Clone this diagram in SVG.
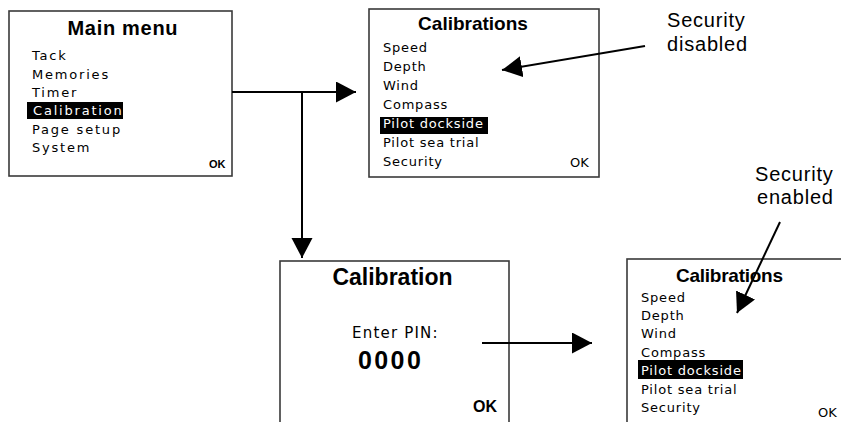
<svg xmlns="http://www.w3.org/2000/svg" width="841" height="422" viewBox="0 0 841 422">
  <style>
    .screen { fill: #ffffff; stroke: #3a3a3a; stroke-width: 1.6; }
    .title { font-family: "Liberation Sans", Arial, sans-serif; font-weight: bold; fill: #000; text-anchor: middle; }
    .item { font-family: "DejaVu Sans", Verdana, sans-serif; font-size: 13px; fill: #000; }
    .main .item { letter-spacing: 1.8px; }
    .cal .item { letter-spacing: 0.8px; }
    .sel { fill: #000; }
    .item.inv { fill: #fff; }
    .okb { font-family: "Liberation Sans", Arial, sans-serif; font-weight: bold; fill: #000; }
    .okr { font-family: "DejaVu Sans", Verdana, sans-serif; font-size: 13px; fill: #000; }
    .note { font-family: "Liberation Sans", Arial, sans-serif; font-size: 20px; letter-spacing: 0.8px; fill: #000; }
    .conn { stroke: #000; stroke-width: 2; fill: none; }
  </style>
  <defs>
    <marker id="head" markerUnits="userSpaceOnUse" markerWidth="21" markerHeight="22" refX="20" refY="10.5" orient="auto">
      <path d="M0,0 L20,10.5 L0,21 z" fill="#000"/>
    </marker>
  </defs>

  <rect width="841" height="422" fill="#ffffff"/>

  <!-- Main menu screen -->
  <g id="main-menu" class="main">
    <rect class="screen" x="9" y="11" width="223" height="165"/>
    <text class="title" x="122.5" y="35" font-size="20" textLength="110">Main menu</text>
    <text class="item" x="32" y="60">Tack</text>
    <text class="item" x="32" y="78.5">Memories</text>
    <text class="item" x="32" y="97">Timer</text>
    <rect class="sel" x="27" y="102" width="96" height="17"/>
    <text class="item inv" x="33" y="115">Calibration</text>
    <text class="item" x="32" y="133.5">Page setup</text>
    <text class="item" x="32" y="152">System</text>
    <text class="okb" x="209" y="168" font-size="11">OK</text>
  </g>

  <!-- Calibrations screen, security disabled -->
  <g id="calibrations-open" class="cal">
    <rect class="screen" x="369" y="9" width="230" height="168"/>
    <text class="title" x="473" y="30" font-size="19">Calibrations</text>
    <text class="item" x="383" y="52">Speed</text>
    <text class="item" x="383" y="71">Depth</text>
    <text class="item" x="383" y="89.5">Wind</text>
    <text class="item" x="383" y="108.5">Compass</text>
    <rect class="sel" x="380" y="117" width="108" height="17"/>
    <text class="item inv" x="383" y="128">Pilot dockside</text>
    <text class="item" x="383" y="147">Pilot sea trial</text>
    <text class="item" x="383" y="165.5">Security</text>
    <text class="okr" x="570" y="167">OK</text>
  </g>

  <!-- PIN entry screen -->
  <g id="pin-entry">
    <rect class="screen" x="280" y="261" width="229" height="180"/>
    <text class="title" x="392.5" y="285" font-size="23">Calibration</text>
    <text x="352" y="338" font-family="DejaVu Sans, Verdana, sans-serif" font-size="15" letter-spacing="1.2" fill="#000">Enter PIN:</text>
    <text x="358" y="369" font-family="Liberation Sans, Arial, sans-serif" font-weight="bold" font-size="25" letter-spacing="2.4" fill="#000">0000</text>
    <text class="okb" x="473" y="412" font-size="16">OK</text>
  </g>

  <!-- Calibrations screen, security enabled -->
  <g id="calibrations-locked" class="cal">
    <rect class="screen" x="627" y="259" width="240" height="180"/>
    <text class="title" x="729.5" y="282" font-size="19" textLength="107">Calibrations</text>
    <text class="item" x="641" y="302">Speed</text>
    <text class="item" x="641" y="320">Depth</text>
    <text class="item" x="641" y="338">Wind</text>
    <text class="item" x="641" y="357">Compass</text>
    <rect class="sel" x="638" y="360" width="105" height="19"/>
    <text class="item inv" x="641" y="375">Pilot dockside</text>
    <text class="item" x="641" y="394">Pilot sea trial</text>
    <text class="item" x="641" y="412">Security</text>
    <text class="okr" x="818" y="417">OK</text>
  </g>

  <!-- Callout labels -->
  <g id="label-disabled">
    <text class="note" x="667" y="27">Security</text>
    <text class="note" x="667" y="50.5">disabled</text>
  </g>
  <g id="label-enabled">
    <text class="note" x="755" y="181">Security</text>
    <text class="note" x="757" y="204">enabled</text>
  </g>

  <!-- Connectors -->
  <g id="connectors">
    <line class="conn" x1="232" y1="92" x2="356" y2="92" marker-end="url(#head)"/>
    <line class="conn" x1="302" y1="92" x2="302" y2="258" marker-end="url(#head)"/>
    <line class="conn" x1="482" y1="343" x2="592" y2="343" marker-end="url(#head)"/>
    <line class="conn" x1="645" y1="46" x2="502" y2="70" marker-end="url(#head)"/>
    <line class="conn" x1="780" y1="222" x2="737" y2="313" marker-end="url(#head)"/>
  </g>
</svg>
